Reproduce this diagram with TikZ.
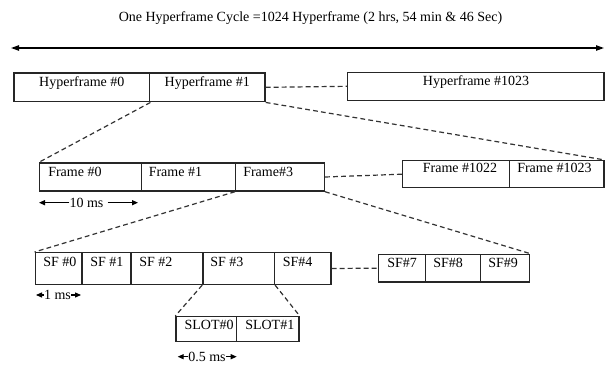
\documentclass[tikz,border=0pt]{standalone}
\usepackage{fontspec}
\setmainfont{Liberation Serif}
\usetikzlibrary{arrows.meta,fit}
\begin{document}
\begin{tikzpicture}[x=0.75pt,y=-0.75pt,
  cell/.style={draw=black!85, line width=1.1pt, inner sep=0pt},
  lbl/.style={anchor=base west, inner sep=0pt, font=\fontsize{10.5}{12}\selectfont},
  clbl/.style={anchor=base, inner sep=0pt, font=\fontsize{10.5}{12}\selectfont},
  link/.style={draw=black!80, line width=0.9pt, dash pattern=on 3.6pt off 2.4pt},
  dimarrow/.style={line width=0.8pt, -{Triangle[length=4.5pt,width=3.8pt]}},
  mainarrow/.style={line width=1pt, {Triangle[length=6pt,width=4pt]}-{Triangle[length=6pt,width=4pt]}}
]
\useasboundingbox (0,0) rectangle (609,364);

% title and main arrow
\node[clbl] (title) at (310.5,21.5) {One Hyperframe Cycle =1024 Hyperframe (2 hrs, 54 min \& 46 Sec)};
\coordinate (ml) at (11,48);
\coordinate (mr) at (604,48);
\draw[mainarrow] (ml) -- (mr);

% hyperframes
\node[cell, fit={(14,73) (149.7,101.7)}] (hf0) {};
\node[cell, fit={(149.7,73) (265,101.7)}] (hf1) {};
\node[cell, fit={(347.7,72.3) (604,100.3)}] (hf1023) {};
\node[clbl] (thf0) at (81.8,86) {Hyperframe \#0};
\node[clbl] (thf1) at (207.3,86) {Hyperframe \#1};
\node[clbl] (thf1023) at (476,85) {Hyperframe \#1023};

% frames
\node[cell, fit={(39.7,163) (141.3,191)}] (fr0) {};
\node[cell, fit={(141.3,163) (235.7,191)}] (fr1) {};
\node[cell, fit={(235.7,163) (324.3,191)}] (fr3) {};
\node[cell, fit={(402.7,160.7) (509.7,187.7)}] (fr1022) {};
\node[cell, fit={(509.7,160.7) (604,187.7)}] (fr1023) {};
\node[lbl] (tfr0) at (48,176) {Frame \#0};
\node[lbl] (tfr1) at (148.5,176) {Frame \#1};
\node[lbl] (tfr3) at (243,176) {Frame\#3};
\node[clbl] (tfr1022) at (460,172.5) {Frame \#1022};
\node[lbl] (tfr1023) at (517,172.5) {Frame \#1023};

% subframes
\node[cell, fit={(35.3,252.7) (82,284.3)}] (sf0) {};
\node[cell, fit={(82,252.7) (131,284.3)}] (sf1) {};
\node[cell, fit={(131,252.7) (203,284.3)}] (sf2) {};
\node[cell, fit={(203,252.7) (274.3,284.3)}] (sf3) {};
\node[cell, fit={(274.3,252.7) (331,284.3)}] (sf4) {};
\node[cell, fit={(378.3,254.3) (425.3,282)}] (sf7) {};
\node[cell, fit={(425.3,254.3) (480.3,282)}] (sf8) {};
\node[cell, fit={(480.3,254.3) (529.3,282)}] (sf9) {};
\node[lbl] (tsf0) at (43,266) {SF \#0};
\node[lbl] (tsf1) at (90,266) {SF \#1};
\node[lbl] (tsf2) at (139,266) {SF \#2};
\node[lbl] (tsf3) at (210,266) {SF \#3};
\node[lbl] (tsf4) at (282.5,266) {SF\#4};
\node[lbl] (tsf7) at (387,267) {SF\#7};
\node[lbl] (tsf8) at (433,267) {SF\#8};
\node[lbl] (tsf9) at (488,267) {SF\#9};

% slots
\node[cell, fit={(176,316.7) (236.7,341.7)}] (slot0) {};
\node[cell, fit={(236.7,316.7) (299,341.7)}] (slot1) {};
\node[lbl] (tslot0) at (184.3,329.5) {SLOT\#0};
\node[lbl] (tslot1) at (245,329.5) {SLOT\#1};

% dashed connectors
\draw[link] (hf0.south east) -- (fr0.north west);
\draw[link] (hf1.south east) -- (fr1023.north east);
\draw[link] (hf1.east) -- (hf1023.west);
\draw[link] (fr3.south west) -- (sf0.north west);
\draw[link] (fr3.south east) -- (sf9.north east);
\draw[link] (fr3.east) -- (fr1022.west);
\draw[link] (sf3.south west) -- (slot0.north west);
\draw[link] (sf3.south east) -- (slot1.north east);
\draw[link] (sf4.east) -- (sf7.west);

% durations
\node[clbl] (t10) at (86.5,207) {10 ms};
\coordinate (t10l) at (39,202.7);
\coordinate (t10r) at (138,202.7);
\draw[dimarrow] (t10l -| t10.west) -- (t10l);
\draw[dimarrow, shorten <=3pt] (t10r -| t10.east) -- (t10r);

\node[clbl] (t1) at (57.5,299.5) {1 ms};
\coordinate (t1l) at (36,295);
\coordinate (t1r) at (81,295);
\draw[dimarrow] (t1l -| t1.west) -- (t1l);
\draw[dimarrow] (t1r -| t1.east) -- (t1r);

\node[clbl] (t05) at (207,361) {0.5 ms};
\coordinate (t05l) at (177.7,356.7);
\coordinate (t05r) at (236.7,356.7);
\draw[dimarrow] (t05l -| t05.west) -- (t05l);
\draw[dimarrow] (t05r -| t05.east) -- (t05r);
\end{tikzpicture}
\end{document}
